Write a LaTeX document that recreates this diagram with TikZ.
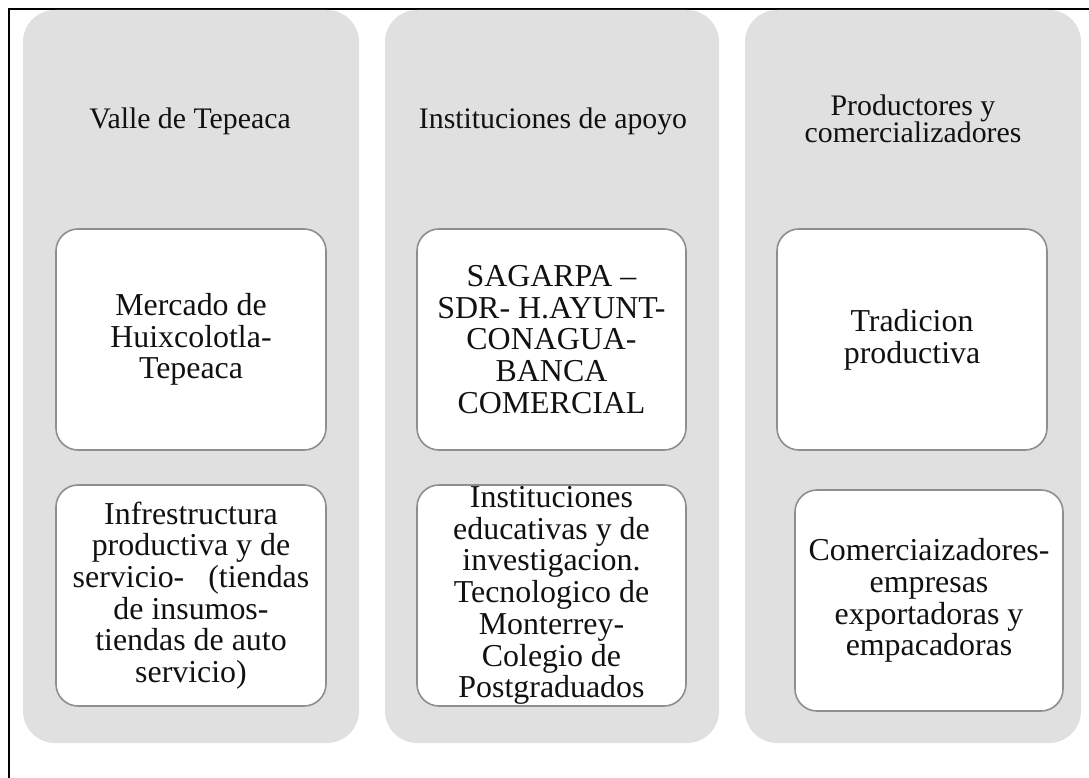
\documentclass[tikz,border=0pt]{standalone}
\usepackage{fontspec}
\setmainfont{Liberation Serif}
\definecolor{colgray}{HTML}{E0E0E0}
\definecolor{boxedge}{HTML}{8E8E8E}
\definecolor{txt}{HTML}{111111}
\tikzset{
  column/.style={fill=colgray, draw=none, rounded corners=32pt, inner sep=0pt},
  itembox/.style={fill=white, draw=boxedge, line width=1.6pt, rounded corners=22pt,
    inner sep=0pt, align=center, text=txt,
    font=\fontsize{31.9}{31.7}\selectfont},
  coltitle/.style={align=center, text=txt, inner sep=0pt,
    font=\fontsize{29.8}{27.5}\selectfont},
}
\begin{document}
\begin{tikzpicture}[x=1pt,y=-1pt]
\useasboundingbox (0,0) rectangle (1089,778);
% outer frame (only top and left edges visible)
\coordinate (frTR) at (1089,9.5);
\coordinate (frTL) at (8.5,9.5);
\coordinate (frBL) at (8.5,778);
\draw[line width=2pt, black] (frTR) -- (frTL) -- (frBL);
% columns
\node[column, minimum width=336pt, minimum height=733pt] (col1) at (191,376.5) {};
\node[column, minimum width=334pt, minimum height=733pt] (col2) at (552,376.5) {};
\node[column, minimum width=336pt, minimum height=733pt] (col3) at (913,376.5) {};
% titles
\node[coltitle] (t1) at (190,121) {Valle de Tepeaca};
\node[coltitle] (t2) at (553,121) {Instituciones de apoyo};
\node[coltitle] (t3) at (913,119) {Productores y\\comercializadores};
% boxes
\node[itembox, minimum width=270pt, minimum height=221pt] (b11) at (191,339.5)
  {Mercado de\\Huixcolotla-\\Tepeaca};
\node[itembox, minimum width=270pt, minimum height=221pt] (b12) at (191,595.5)
  {Infrestructura\\productiva y de\\servicio-~~~(tiendas\\de insumos-\\tiendas de auto\\servicio)};
\node[itembox, minimum width=269pt, minimum height=221pt] (b21) at (551.5,339.5)
  {SAGARPA --\\SDR- H.AYUNT-\\CONAGUA-\\BANCA\\COMERCIAL};
\node[itembox, minimum width=269pt, minimum height=221pt] (b22) at (551.5,595.5)
  {Instituciones\\educativas y de\\investigacion.\\Tecnologico de\\Monterrey-\\Colegio de\\Postgraduados};
\node[itembox, minimum width=270pt, minimum height=221pt] (b31) at (912,339.5)
  {Tradicion\\productiva};
\node[itembox, minimum width=268pt, minimum height=221pt] (b32) at (929,600.5)
  {Comerciaizadores-\\empresas\\exportadoras y\\empacadoras};
\end{tikzpicture}
\end{document}
